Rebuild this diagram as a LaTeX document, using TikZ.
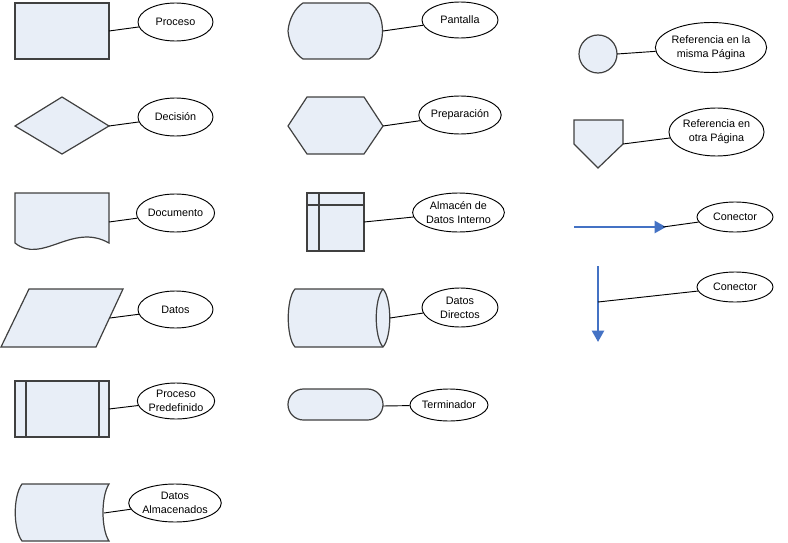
\documentclass[tikz,border=0pt]{standalone}
\usepackage{fontspec}
\setmainfont{Liberation Sans}
\usetikzlibrary{shapes.geometric,arrows.meta}
\definecolor{shapefill}{HTML}{E8EEF7}
\definecolor{shapeline}{HTML}{404040}
\definecolor{flowblue}{HTML}{4472C4}
\begin{document}
\begin{tikzpicture}[x=0.75pt,y=-0.75pt,
  symbol/.style={draw=shapeline,fill=shapefill,line width=0.9pt,line join=miter},
  inner/.style={draw=shapeline,line width=0.9pt},
  lab/.style 2 args={draw=black,line width=0.7pt,ellipse,inner sep=0pt,
    minimum width=#1*0.75pt,minimum height=#2*0.75pt,align=center,
    font=\fontsize{8.1}{10.5}\selectfont},
  lead/.style={draw=black,line width=0.7pt},
  flow/.style={draw=flowblue,line width=1.7pt,-{Triangle[length=8.5pt,width=9pt]}}]
\path (0,0) rectangle (788,542);

% ---------- first column ----------
% process
\path[symbol] (15,3) rectangle (109,59);
\coordinate (s1) at (109,31);
\node[lab={75}{38}] (e1) at (175.5,22) {Proceso};
% decision
\path[symbol] (15,126) -- (62,97) -- (109,126) -- (62,154) -- cycle;
\coordinate (s2) at (109,126);
\node[lab={75}{38}] (e2) at (175.5,117) {Decisión};
% document
\path[symbol] (15,193) -- (109,193) -- (109,243)
  .. controls (72,222) and (42,265) .. (15,243) -- cycle;
\coordinate (s3) at (109,222);
\node[lab={75}{38}] (e3) at (175.5,213) {Documento};
% data
\path[symbol] (29,289) -- (123,289) -- (96,347) -- (1,347) -- cycle;
\coordinate (s4) at (110,318);
\node[lab={75}{37}] (e4) at (175.5,309.5) {Datos};
% predefined process
\path[symbol] (15,381) rectangle (109,437);
\draw[inner] (26,381) -- (26,437);
\draw[inner] (99,381) -- (99,437);
\coordinate (s5) at (109,409);
\node[lab={75}{36}] (e5) at (176,401) {Proceso\\Predefinido};
% stored data
\path[symbol] (22,484) -- (109,484)
  .. controls (101,496) and (101,529) .. (109,541) -- (22,541)
  .. controls (13,529) and (13,496) .. (22,484) -- cycle;
\coordinate (s6) at (104,513);
\node[lab={90}{38}] (e6) at (175,503) {Datos\\Almacenados};

% ---------- second column ----------
% display
\path[symbol] (288,31) .. controls (289,19) and (295,8) .. (303,3) -- (369,3)
  .. controls (387,12) and (387,50) .. (369,59) -- (303,59)
  .. controls (295,54) and (289,43) .. (288,31) -- cycle;
\coordinate (s7) at (383,31);
\node[lab={76}{36}] (e7) at (460,20) {Pantalla};
% preparation
\path[symbol] (288,126) -- (307,97) -- (364,97) -- (383,126) -- (364,154) -- (307,154) -- cycle;
\coordinate (s8) at (383,126);
\node[lab={76}{38}] (e8) at (460,115) {Preparación};
% internal storage
\path[symbol] (307,193) rectangle (364,251);
\draw[inner] (319,193) -- (319,251);
\draw[inner] (307,205) -- (364,205);
\coordinate (s9) at (364,222);
\node[lab={79}{39}] (e9) at (458.5,212.5) {Almacén de\\Datos Interno};
% direct data
\path[symbol] (295,289) -- (383,289)
  .. controls (392,299) and (392,337) .. (383,347) -- (295,347)
  .. controls (286,337) and (286,299) .. (295,289) -- cycle;
\draw[inner] (383,289) .. controls (374,299) and (374,337) .. (383,347);
\coordinate (s10) at (390,318);
\node[lab={76}{39}] (e10) at (460,307.5) {Datos\\Directos};
% terminator
\path[symbol,rounded corners=11.6pt] (288,389) rectangle (383,420);
\coordinate (s11) at (383,406);
\node[lab={78}{32}] (e11) at (449,405) {Terminador};

% ---------- third column ----------
% on-page reference
\path[symbol] (598,54) circle[radius=14.25pt];
\coordinate (s12) at (617,54);
\node[lab={90}{50}] (e12) at (711,47.5) {Referencia en la\\misma Página};
% off-page reference
\path[symbol] (574,120) -- (623,120) -- (623,144) -- (598,168) -- (574,144) -- cycle;
\coordinate (s13) at (623,144);
\node[lab={91}{48}] (e13) at (716.5,132) {Referencia en\\otra Página};
% connectors
\coordinate (h1) at (574,227);
\coordinate (h2) at (666,227);
\draw[flow] (h1) -- (h2);
\coordinate (s14) at (663,227);
\node[lab={76}{30}] (e14) at (735,217) {Conector};
\coordinate (v1) at (598,266);
\coordinate (v2) at (598,342);
\draw[flow] (v1) -- (v2);
\coordinate (s15) at (598,302);
\node[lab={76}{30}] (e15) at (735,287) {Conector};

% ---------- leader lines ----------
\foreach \i in {1,...,15} \draw[lead] (s\i) -- (e\i);
\end{tikzpicture}
\end{document}
